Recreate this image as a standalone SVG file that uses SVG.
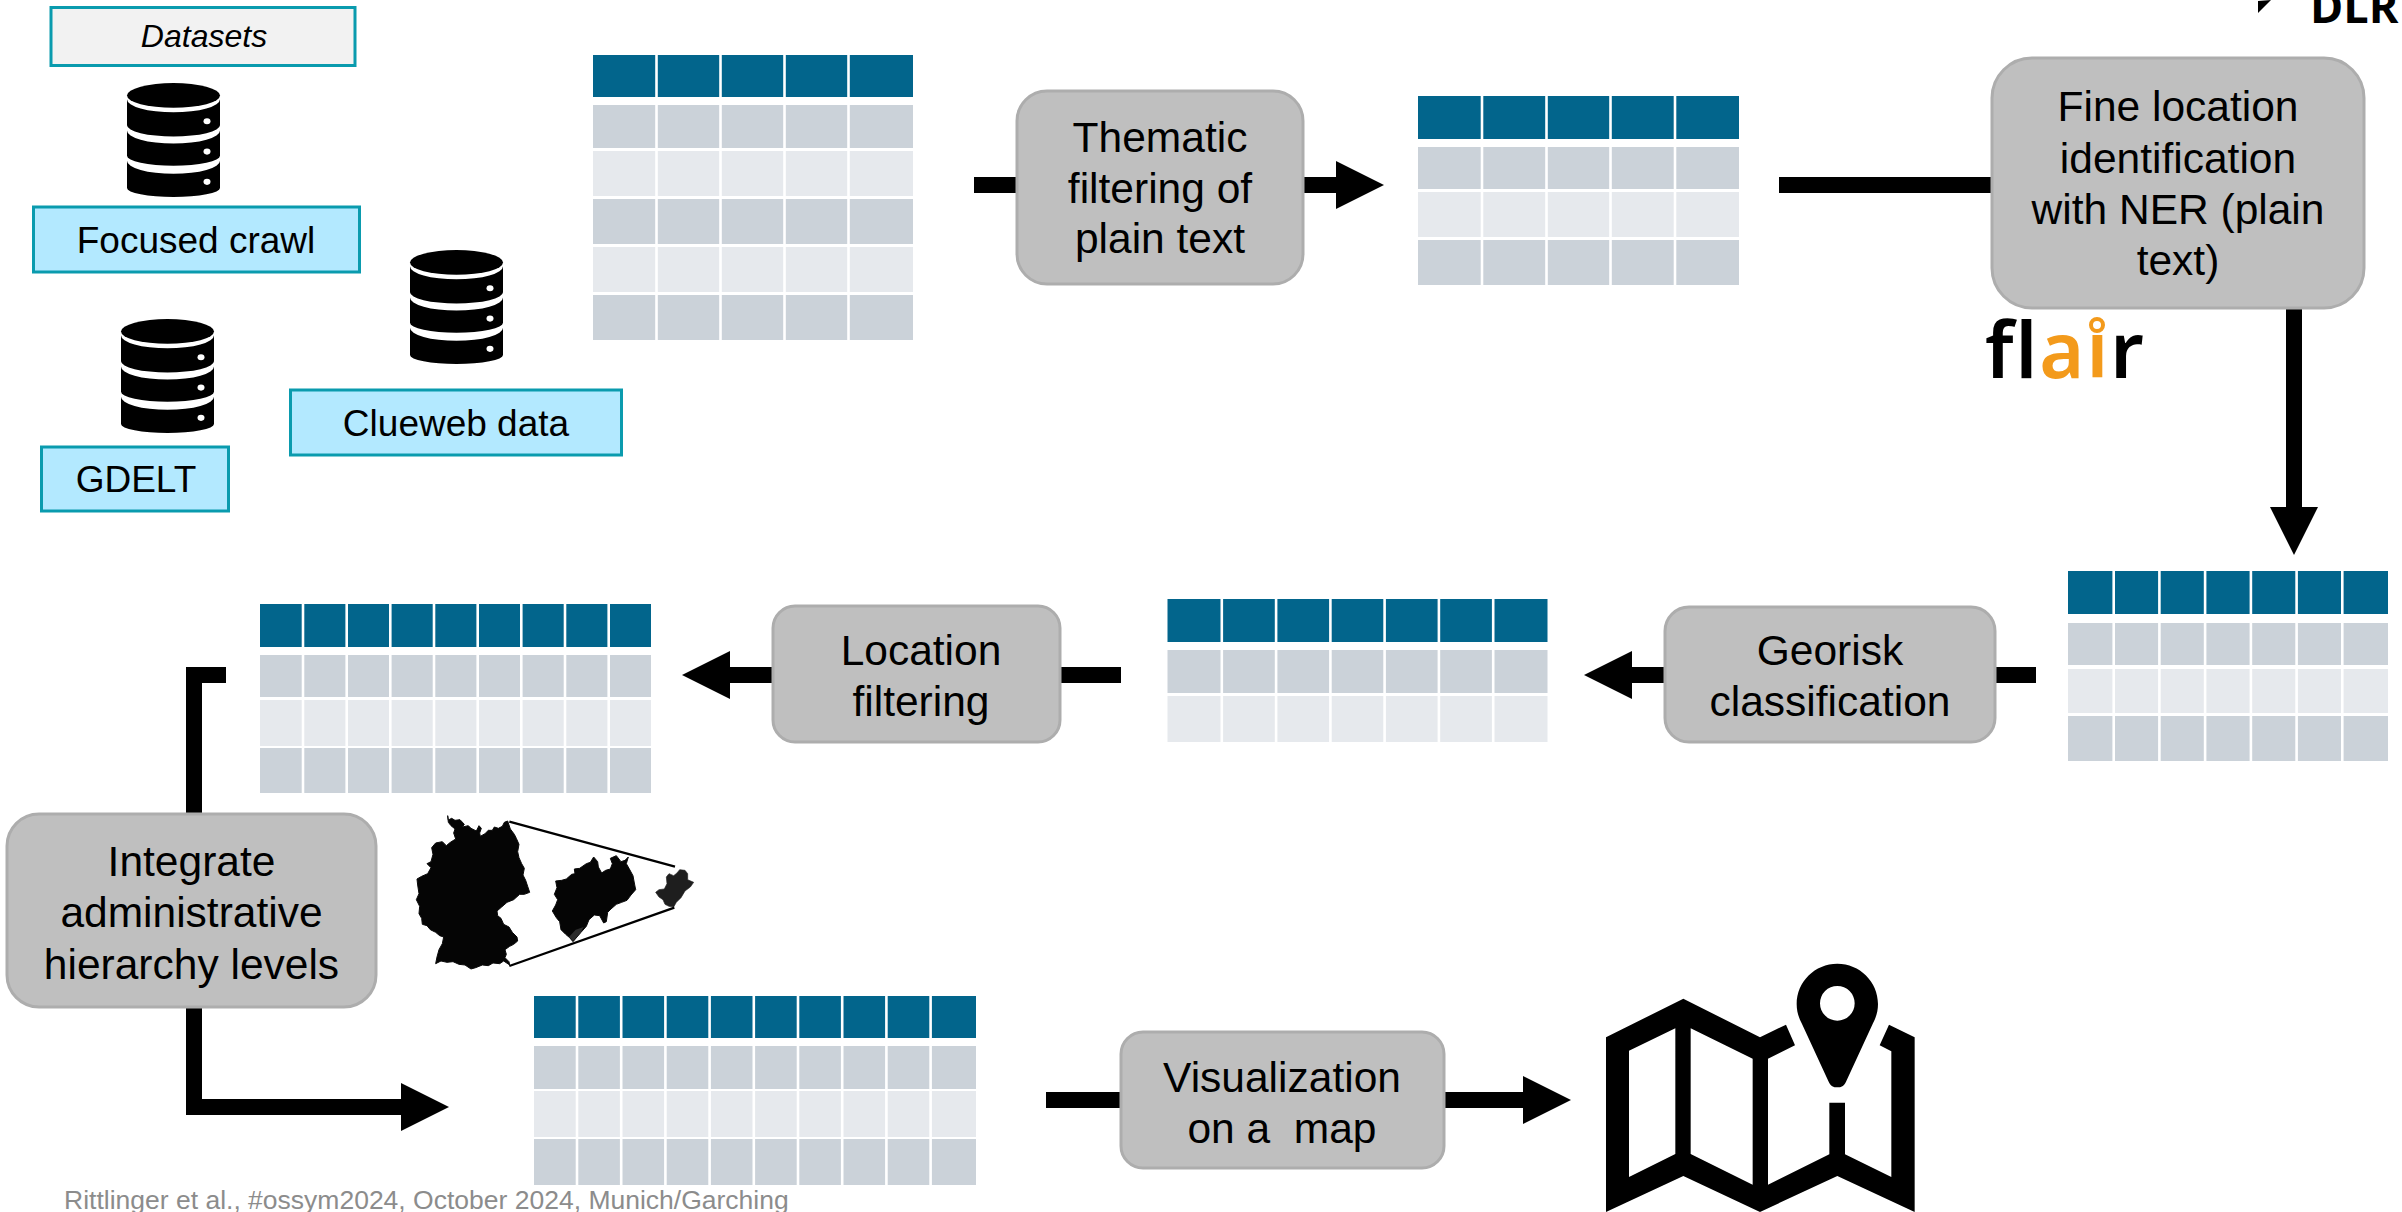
<svg xmlns="http://www.w3.org/2000/svg" width="2402" height="1212" viewBox="0 0 2402 1212">
<style>
text{font-family:"Liberation Sans",Arial,sans-serif;fill:#000;text-anchor:middle;white-space:pre}
.p{font-size:42.500px}
.d{font-size:37px}
.step{fill:#bfbfbf;stroke:#adadad;stroke-width:3}
.src{fill:#b3e9ff;stroke:#0a9bae;stroke-width:3}
.hd{fill:#02658c}
.dk{fill:#cbd2d9}
.lt{fill:#e6e9ed}
.sep{stroke:#fff;stroke-width:2.6}
.c{fill:none;stroke:#000;stroke-width:16;stroke-linejoin:miter}
</style>
<defs>
<marker id="ah" markerUnits="userSpaceOnUse" markerWidth="48" markerHeight="48" viewBox="0 0 48 48" refX="0" refY="24" orient="auto"><path d="M0,0 L48,24 L0,48 Z" fill="#000"/></marker>
<symbol id="db" width="93" height="114" viewBox="0 0 93 113" overflow="visible" preserveAspectRatio="none">
<ellipse cx="46.5" cy="12.3" rx="46.5" ry="12.3" fill="#000"/>
<path fill="#000" d="M0,16 A46.5 13 0 0 0 93,16 L93,42 A46.5 11 0 0 1 0,42 Z M0,47 A46.5 13 0 0 0 93,47 L93,72 A46.5 10 0 0 1 0,72 Z M0,77 A46.5 13 0 0 0 93,77 L93,104 A46.5 9 0 0 1 0,104 Z"/>
<g fill="#fff"><ellipse cx="80" cy="38" rx="3.5" ry="3"/><ellipse cx="80" cy="68" rx="3.5" ry="3"/><ellipse cx="80" cy="98" rx="3.5" ry="3"/></g>
</symbol>
</defs>
<rect width="2402" height="1212" fill="#fff"/>

<g id="connectors">
<path class="c" d="M974,185 H1016"/>
<path class="c" d="M1304,185 H1336" marker-end="url(#ah)"/>
<path class="c" d="M1779,185 H1991"/>
<path class="c" d="M2294,308 V507" marker-end="url(#ah)"/>
<path class="c" d="M2036,675 H1996"/>
<path class="c" d="M1664,675 H1632" marker-end="url(#ah)"/>
<path class="c" d="M1121,675 H1060"/>
<path class="c" d="M772,675 H730" marker-end="url(#ah)"/>
<path class="c" d="M226,675 H194 V813"/>
<path class="c" d="M194,1008 V1107 H401" marker-end="url(#ah)"/>
<path class="c" d="M1046,1100 H1120"/>
<path class="c" d="M1445,1100 H1523" marker-end="url(#ah)"/>
</g>

<g id="datasets-label"><rect x="51" y="7.500" width="304" height="58" fill="#f2f2f2" stroke="#0a9bae" stroke-width="3"/><text x="204" y="47" font-size="32" font-style="italic">Datasets</text></g>
<g id="focused-crawl"><use href="#db" x="127" y="83"/><rect class="src" x="33.500" y="207" width="326" height="65"/><text class="d" x="196" y="253">Focused crawl</text></g>
<g id="clueweb"><use href="#db" x="410" y="250"/><rect class="src" x="290.500" y="390" width="331" height="65"/><text class="d" x="456" y="436">Clueweb data</text></g>
<g id="gdelt"><use href="#db" x="121" y="319"/><rect class="src" x="41.500" y="447" width="187" height="64"/><text class="d" x="136" y="492">GDELT</text></g>

<g id="table-1"><rect class="hd" x="593" y="55" width="320" height="42"/><rect class="dk" x="593" y="105" width="320" height="43"/><rect class="lt" x="593" y="151" width="320" height="45"/><rect class="dk" x="593" y="199" width="320" height="45"/><rect class="lt" x="593" y="247" width="320" height="45"/><rect class="dk" x="593" y="295" width="320" height="45"/><path class="sep" d="M656.500,55V340M720.500,55V340M784.500,55V340M848.500,55V340"/></g>
<g id="thematic"><rect class="step" x="1017" y="91" width="286" height="193" rx="30"/><text class="p" x="1160" y="152">Thematic</text><text class="p" x="1160" y="203">filtering of</text><text class="p" x="1160" y="253">plain text</text></g>
<g id="table-2"><rect class="hd" x="1418" y="96" width="321" height="43"/><rect class="dk" x="1418" y="147" width="321" height="42"/><rect class="lt" x="1418" y="192" width="321" height="45"/><rect class="dk" x="1418" y="240" width="321" height="45"/><path class="sep" d="M1482,96V285M1546.500,96V285M1610.500,96V285M1675,96V285"/></g>
<g id="ner"><rect class="step" x="1992" y="58" width="372" height="250" rx="40"/><text class="p" x="2178" y="121">Fine location</text><text class="p" x="2178" y="173">identification</text><text class="p" x="2178" y="224">with NER (plain</text><text class="p" x="2178" y="275">text)</text></g>
<g id="flair-logo"><text x="1985" y="378" font-size="77" font-weight="600" letter-spacing="2" style="font-family:'Noto Sans',sans-serif;text-anchor:start">fl<tspan fill="#f39a1b">ai</tspan>r</text><circle cx="2097" cy="325" r="6" fill="#fff" stroke="#f39a1b" stroke-width="4"/></g>
<g id="dlr-logo"><path d="M2258,13 V1 L2271,0 Z" fill="#000"/><text x="2310" y="23" font-size="45" font-weight="700" style="font-family:'Open Sans',sans-serif;text-anchor:start">DLR</text></g>

<g id="table-4"><rect class="hd" x="2068" y="571" width="320" height="43"/><rect class="dk" x="2068" y="623" width="320" height="42"/><rect class="lt" x="2068" y="669" width="320" height="44"/><rect class="dk" x="2068" y="716" width="320" height="45"/><path class="sep" d="M2113.700,571V761M2159.400,571V761M2205.100,571V761M2250.900,571V761M2296.600,571V761M2342.300,571V761"/></g>
<g id="georisk"><rect class="step" x="1665" y="607" width="330" height="135" rx="24"/><text class="p" x="1830" y="665">Georisk</text><text class="p" x="1830" y="716">classification</text></g>
<g id="table-5"><rect class="hd" x="1167.500" y="599" width="380" height="43"/><rect class="dk" x="1167.500" y="650" width="380" height="43"/><rect class="lt" x="1167.500" y="696" width="380" height="46"/><path class="sep" d="M1221.800,599V742M1276.100,599V742M1330.400,599V742M1384.600,599V742M1438.900,599V742M1493.200,599V742"/></g>
<g id="location-filtering"><rect class="step" x="773" y="606" width="287" height="136" rx="22"/><text class="p" x="921" y="665">Location</text><text class="p" x="921" y="716">filtering</text></g>
<g id="table-6"><rect class="hd" x="260" y="604" width="391" height="43"/><rect class="dk" x="260" y="655" width="391" height="42"/><rect class="lt" x="260" y="700" width="391" height="46"/><rect class="dk" x="260" y="748" width="391" height="45"/><path class="sep" d="M303,604V793M346.700,604V793M390.300,604V793M434,604V793M477.700,604V793M521.300,604V793M565,604V793M608.700,604V793"/></g>
<g id="integrate"><rect class="step" x="7" y="814" width="369" height="193" rx="32"/><text class="p" x="191.500" y="876">Integrate</text><text class="p" x="191.500" y="927">administrative</text><text class="p" x="191.500" y="979">hierarchy levels</text></g>

<g id="germany-maps" transform="translate(405,805) scale(.33333)">
<path stroke="#0a0a0a" stroke-width="3" stroke-linejoin="round" d="M128,32 L130,45 140,40 150,46 165,44 178,58 172,66 190,62 198,70 214,78 222,62 229,70 224,84 226,94 240,86 250,76 262,76 268,66 280,70 292,64 298,52 308,48 312,60 316,72 328,88 334,100 342,118 338,140 342,158 350,176 358,190 354,210 362,226 368,244 374,262 358,268 344,268 326,284 306,292 290,306 276,318 278,332 288,340 296,358 312,366 322,382 336,396 338,408 326,418 314,424 300,434 304,448 300,458 312,470 314,480 296,468 284,476 264,474 250,482 232,480 212,488 198,492 180,480 162,478 144,470 126,472 108,468 92,476 96,456 102,434 112,416 116,396 104,392 92,382 76,374 66,362 52,358 50,340 42,326 44,304 34,284 42,266 38,240 36,222 50,214 68,206 78,188 66,176 78,170 84,148 80,128 92,114 112,110 124,122 136,112 152,102 146,84 150,72 138,62 130,52 Z" fill="#050505"/>
<path stroke="#0a0a0a" stroke-width="3" stroke-linejoin="round" d="M452,228 L470,226 484,222 500,208 510,206 508,192 524,190 544,176 556,172 566,156 578,170 580,186 590,204 602,196 616,192 622,176 616,160 634,152 648,170 660,166 670,156 664,176 672,190 684,212 688,234 692,254 678,270 666,286 650,292 634,298 618,312 608,322 604,350 596,354 584,332 568,330 552,344 544,364 528,382 516,396 504,410 494,398 482,388 468,374 464,350 454,338 442,318 452,300 458,284 448,268 456,248 Z" fill="#050505"/>
<path d="M504,408 L492,396 512,374 536,366 526,384 Z" fill="#2b2b2b"/>
<path stroke="#222" stroke-width="2" stroke-linejoin="round" d="M752,262 L762,254 778,252 786,236 784,216 792,206 806,212 816,204 824,194 840,196 848,206 848,224 866,232 856,246 840,258 828,278 814,292 806,306 792,304 780,298 774,284 762,276 Z" fill="#1e1e1e"/>
<path d="M313,50 L810,185 M313,483 L808,308" stroke="#000" stroke-width="7" fill="none"/>
</g>

<g id="table-7"><rect class="hd" x="534" y="996" width="442" height="42"/><rect class="dk" x="534" y="1046" width="442" height="43"/><rect class="lt" x="534" y="1091" width="442" height="46"/><rect class="dk" x="534" y="1139" width="442" height="46"/><path class="sep" d="M577,996V1185M621.200,996V1185M665.400,996V1185M709.600,996V1185M753.800,996V1185M798,996V1185M842.200,996V1185M886.400,996V1185M930.600,996V1185"/></g>
<g id="visualization"><rect class="step" x="1121" y="1032" width="323" height="136" rx="22"/><text class="p" x="1282" y="1092">Visualization</text><text class="p" x="1282" y="1143">on a  map</text></g>
<g id="map-icon" transform="translate(1560,930) scale(.33333)">
<path fill="#000" fill-rule="evenodd" d="M138,322 L370,206 600,322 678,284 705,346 624,386 624,764 808,673 808,518 855,518 855,673 994,741 994,364 959,346 987,284 1064,322 1064,846 832,738 600,846 370,738 138,846 Z M207,362 L346,295 346,672 207,741 Z M392,295 L578,386 578,764 392,672 Z"/>
<path fill="#000" fill-rule="evenodd" d="M832,101 C765,101 710,155 710,222 C710,245 716,262 725,280 L806,455 C812,468 820,472 832,472 C844,472 852,468 858,455 L939,280 C948,262 954,245 954,222 C954,155 899,101 832,101 Z M884,220 A52,52 0 1 0 780,220 A52,52 0 1 0 884,220 Z"/>
</g>
<g id="footer"><text x="64" y="1209" font-size="26.500" style="text-anchor:start;fill:#8c8c8c">Rittlinger et al., #ossym2024, October 2024, Munich/Garching</text></g>
</svg>
